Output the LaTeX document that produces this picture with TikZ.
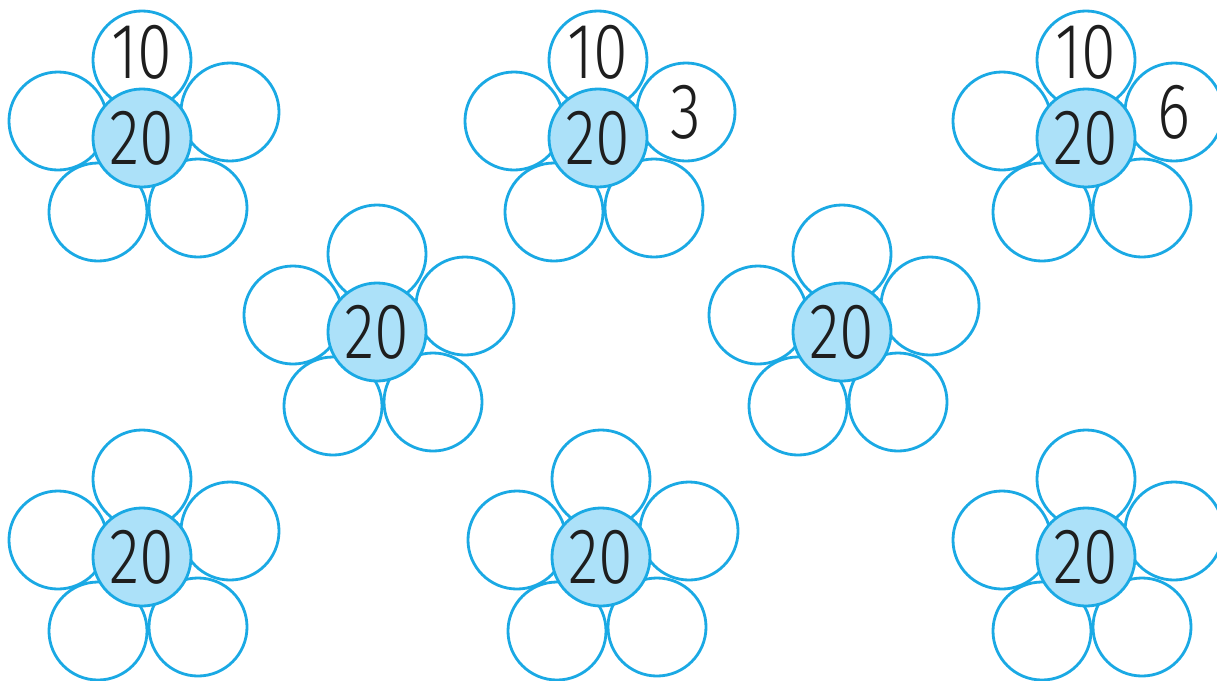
\documentclass[tikz,border=0pt]{standalone}
\usepackage{fontspec}
\newfontfamily\digitfont{Fira Sans}[UprightFont=* Light, FakeStretch=0.8]
\definecolor{flowerblue}{HTML}{1AA9E4}
\definecolor{heartblue}{HTML}{ACE1F9}
\definecolor{inkgrey}{HTML}{1E1E1E}

\begin{document}
\begin{tikzpicture}[x=0.025cm, y=-0.025cm,
		petal/.style={draw=flowerblue, circle, fill=white, minimum size=2.45cm, inner sep=0pt, line width=2pt},
		num/.style={font=\digitfont\fontsize{56}{56}\selectfont, text=inkgrey, inner sep=0pt},
		heart/.style={petal, fill=heartblue, num}]
		\useasboundingbox (0,0) rectangle (1217,680);

		\foreach \f/\cx/\cy in {a/142/138, b/598/138, c/1086/138, d/377/332, e/842/332, f/142/557, g/601/557, h/1086/557}{
			\node[petal] (\f-ll) at (\cx-44,\cy+74) {};
			\node[petal] (\f-lr) at (\cx+56,\cy+70) {};
			\node[petal] (\f-l) at (\cx-84,\cy-17) {};
			\node[petal] (\f-ur) at (\cx+88,\cy-26) {};
			\node[petal] (\f-t) at (\cx,\cy-78) {};
			\node[heart] (\f) at (\cx,\cy) {20};
		}

		\node[num] (a-ten) at ([yshift=0.2cm]a-t) {10};
		\node[num] (b-ten) at ([yshift=0.2cm]b-t) {10};
		\node[num] (c-ten) at ([yshift=0.2cm]c-t) {10};
		\node[num] (b-three) at (b-ur) {3};
		\node[num] (c-six) at (c-ur) {6};

	\end{tikzpicture}
\end{document}
